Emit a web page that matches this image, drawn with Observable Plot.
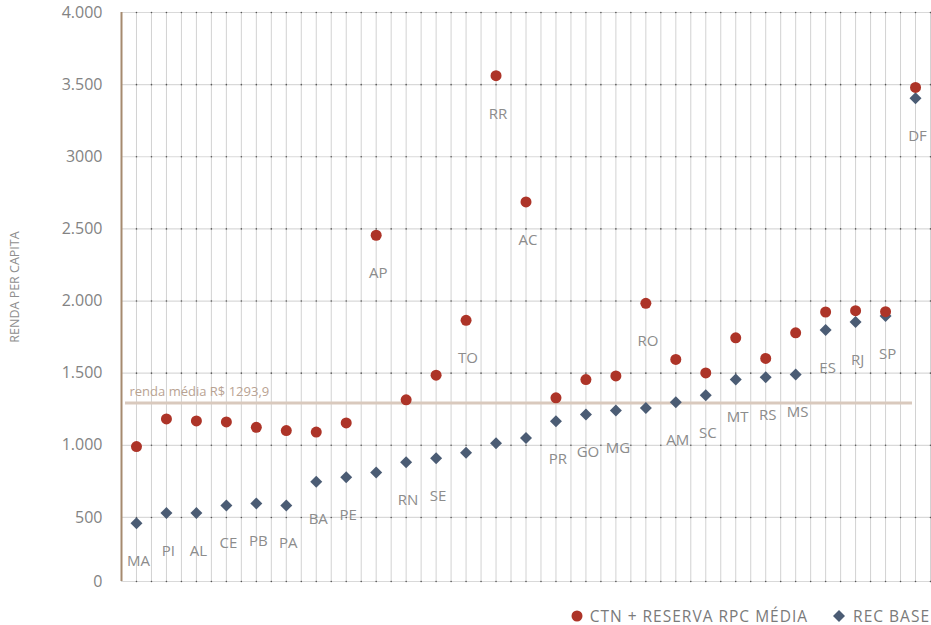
<!DOCTYPE html>
<html>
<head>
<meta charset="utf-8">
<script src="https://cdn.jsdelivr.net/npm/d3@7"></script>
<script src="https://cdn.jsdelivr.net/npm/@observablehq/plot@0.6"></script>
<style>
  html, body { margin: 0; padding: 0; background: #fff; }
  body { width: 931px; height: 625px; overflow: hidden; font-family: "Open Sans", Lato, sans-serif; }
  #chart svg { display: block; }
  .legend { height: 30px; box-sizing: border-box; padding-top: 11px; display: flex; justify-content: flex-end; align-items: center; color: #7a7a7a; font-size: 15.5px; letter-spacing: 1px; line-height: 18px; padding-right: 1px; }
  .legend .item { display: flex; align-items: center; }
  .legend .item svg { margin-right: 7px; }
  .legend .item + .item { margin-left: 24px; }
</style>
</head>
<body>
<div id="chart"></div>
<script>
// ---- data ----
const states = ["MA","PI","AL","CE","PB","PA","BA","PE","AP","RN","SE","TO","RR","AC","PR","GO","MG","RO","AM","SC","MT","RS","MS","ES","RJ","SP","DF"];
const ctnReservaRpcMedia = [991,1183,1169,1162,1125,1102,1092,1155,2456,1315,1486,1866,3562,2687,1329,1456,1481,1984,1595,1502,1745,1602,1780,1924,1933,1926,3481];
const recBase = [460,530,530,583,597,583,748,778,812,882,911,949,1014,1051,1167,1213,1241,1259,1299,1347,1456,1472,1491,1799,1854,1896,3405];
const labelOnCtn = ["AP","TO","RR","AC","RO"];
const rendaMedia = 1293.9;
const yAxisMin = 56;
const yTicks = [yAxisMin,500,1000,1500,2000,2500,3000,3500,4000];
const yTickLabels = ["0","500","1.000","1.500","2.000","2.500","3000","3.500","4.000"];
const seriesNames = ["CTN + RESERVA RPC MÉDIA","REC BASE"];
const yLabel = "RENDA PER CAPITA";

const RED = "#ad3428", BLUE = "#4b5c74";

const data = states.map((s, i) => ({state: s, i, ctn: ctnReservaRpcMedia[i], rec: recBase[i]}));
const xGrid = d3.range(0, states.length * 2 + 1).map(k => k / 2 - 0.5);
const gridPts = xGrid.slice(1).flatMap(x => yTicks.map(y => ({x, y})));

const plot = Plot.plot({
  width: 931,
  height: 595,
  marginTop: 12,
  marginBottom: 14,
  marginLeft: 121,
  marginRight: 1,
  style: {fontFamily: '"Open Sans", Lato, sans-serif', background: "#fff"},
  x: {domain: [-0.5, states.length - 0.5], axis: null},
  y: {domain: [yAxisMin, 4000], axis: null},
  marks: [
    Plot.ruleX(xGrid.slice(1), {stroke: "#d2d2d2", strokeWidth: 1}),
    Plot.ruleY(yTicks, {stroke: "#d9d9d9", strokeWidth: 1.2}),
    Plot.dot(gridPts, {x: "x", y: "y", r: 0.8, fill: "#555", stroke: null}),
    Plot.ruleX([-0.5], {stroke: "#a58a6f", strokeWidth: 2}),
    Plot.axisY(yTicks, {
      tickSize: 0, tickPadding: 19, fontSize: 16, color: "#838383", label: null,
      tickFormat: d => yTickLabels[yTicks.indexOf(d)]
    }),
    Plot.text([yLabel], {frameAnchor: "left", dx: -107, dy: -10, rotate: -90, textAnchor: "middle", fontSize: 12.5, fill: "#8e8e8e", style: "letter-spacing:1.4px"}),
    Plot.ruleY([rendaMedia], {stroke: "#d9c9bd", strokeWidth: 3, insetLeft: 4, insetRight: 18}),
    Plot.text([rendaMedia], {
      y: d => d, frameAnchor: "left", textAnchor: "start", dx: 8, dy: -11,
      text: d => `renda média R$ ${d.toFixed(1).replace(".", ",")}`,
      fontSize: 13, fill: "#b9a393"
    }),
    Plot.text(data, {
      x: "i", y: d => labelOnCtn.includes(d.state) ? d.ctn : d.rec,
      text: "state", dy: 38, dx: 2, fontSize: 15, fill: "#8c8c8c", style: "letter-spacing:0.5px"
    }),
    Plot.dot(data, {x: "i", y: "rec", symbol: "diamond2", r: 5.4, fill: BLUE, stroke: null}),
    Plot.dot(data, {x: "i", y: "ctn", r: 5.5, fill: RED, stroke: null})
  ]
});
document.getElementById("chart").appendChild(plot);

// legend
const legend = document.createElement("div");
legend.className = "legend";
legend.innerHTML =
  `<div class="item"><svg width="12" height="12"><circle cx="6" cy="6" r="5.5" fill="${RED}"/></svg><span>${seriesNames[0]}</span></div>` +
  `<div class="item"><svg width="14" height="14"><path d="M7,1 L13,7 L7,13 L1,7 Z" fill="${BLUE}"/></svg><span>${seriesNames[1]}</span></div>`;
document.getElementById("chart").appendChild(legend);
</script>
</body>
</html>
